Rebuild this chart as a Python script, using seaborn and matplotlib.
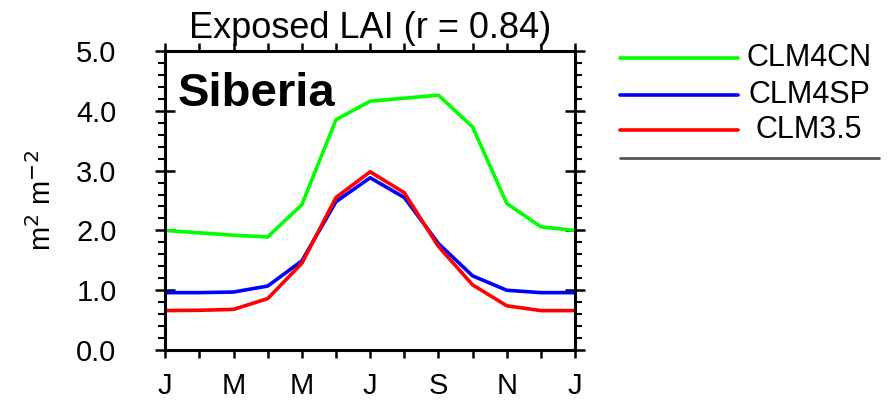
import numpy as np
import pandas as pd
import matplotlib
matplotlib.use("Agg")
import matplotlib.pyplot as plt
from matplotlib.lines import Line2D
from matplotlib.ticker import MultipleLocator
import seaborn as sns

# monthly climatology, Jan..Dec plus Jan again
months = ["J", "F", "M", "A", "M", "J", "J", "A", "S", "O", "N", "D", "J"]
tick_labels = ["J", "", "M", "", "M", "", "J", "", "S", "", "N", "", "J"]
clm4cn = [2.00, 1.96, 1.92, 1.89, 2.43, 3.85, 4.16, 4.21, 4.26, 3.73, 2.45, 2.06, 2.00]
clm4sp = [0.96, 0.96, 0.97, 1.07, 1.49, 2.48, 2.88, 2.55, 1.78, 1.24, 1.00, 0.96, 0.96]
clm35 = [0.66, 0.665, 0.68, 0.86, 1.45, 2.55, 2.98, 2.63, 1.73, 1.09, 0.74, 0.66, 0.66]
models = ["CLM4CN", "CLM4SP", "CLM3.5"]
colors = ["#00ff00", "#0000ff", "#ff0000"]

df = pd.DataFrame({
    "month": list(range(13)) * 3,
    "lai": clm4cn + clm4sp + clm35,
    "model": [m for m in models for _ in range(13)],
})

sns.set_theme(style="white")
plt.rcParams["font.family"] = ["Liberation Sans", "DejaVu Sans"]
plt.rcParams["text.color"] = "black"
plt.rcParams["axes.labelcolor"] = "black"
plt.rcParams["xtick.color"] = "black"
plt.rcParams["ytick.color"] = "black"

fig = plt.figure(figsize=(8.93, 4.01), dpi=100)
ax = fig.add_axes([0.185, 0.127, 0.459, 0.746])

sns.lineplot(data=df, x="month", y="lai", hue="model", palette=dict(zip(models, colors)),
             linewidth=2.6, legend=False, ax=ax)

ax.set_xlim(0, 12)
ax.set_ylim(0, 5)
ax.set_xticks(range(13))
ax.set_xticklabels(tick_labels, fontsize=21)
ax.yaxis.set_major_locator(MultipleLocator(1))
ax.yaxis.set_minor_locator(MultipleLocator(0.2))
ax.set_yticklabels([f"{v:.1f}" for v in ax.get_yticks()], fontsize=21)
ax.tick_params(axis="x", which="major", direction="out", length=6, width=1.8,
               top=True, bottom=True, pad=10)
ax.tick_params(axis="y", which="major", direction="inout", length=14, width=1.8,
               left=True, right=True, pad=28)
ax.tick_params(axis="y", which="minor", direction="out", length=5, width=1.5,
               left=True, right=True)
for s in ax.spines.values():
    s.set_linewidth(2.2)
    s.set_color("black")

ax.set_xlabel("")
ax.set_ylabel("m$^2$ m$^{-2}$", fontsize=21, labelpad=14)
ax.set_title("Exposed LAI (r = 0.84)", fontsize=26, pad=9)
ax.text(0.03, 0.93, "Siberia", transform=ax.transAxes, fontsize=34,
        fontweight="bold", va="top", ha="left")

# legend drawn to the right of the panel
leg_y = [0.855, 0.763, 0.676]
for name, c, y in zip(models, colors, leg_y):
    fig.add_artist(Line2D([0.694, 0.826], [y, y], color=c, linewidth=2.6,
                          transform=fig.transFigure))
    fig.text(0.906, y, name, fontsize=22, ha="center", va="center")
fig.add_artist(Line2D([0.694, 0.984], [0.606, 0.606], color="#555555", linewidth=2,
                      transform=fig.transFigure))

fig.savefig("out.png", dpi=100)
